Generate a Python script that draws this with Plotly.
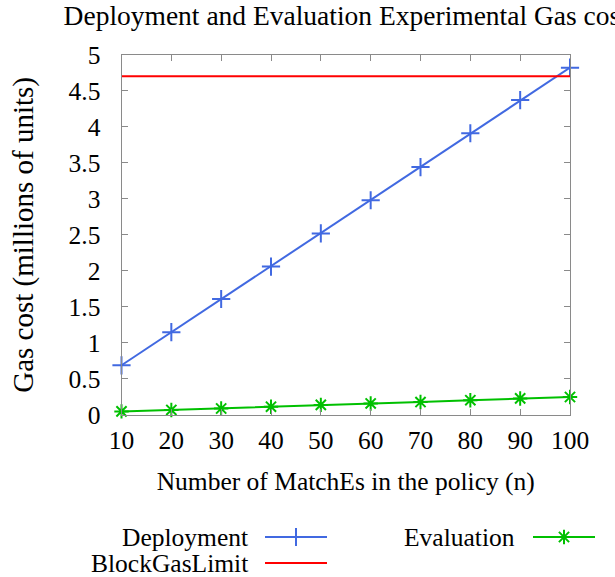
import plotly.graph_objects as go

# ---- data ----
n_matches = [10, 20, 30, 40, 50, 60, 70, 80, 90, 100]
deployment = [0.69, 1.15, 1.61, 2.06, 2.52, 2.98, 3.44, 3.91, 4.37, 4.82]
evaluation = [0.05, 0.07, 0.09, 0.115, 0.14, 0.16, 0.18, 0.205, 0.23, 0.25]
block_gas_limit = 4.7
x_ticks = [10, 20, 30, 40, 50, 60, 70, 80, 90, 100]
y_ticks = [0, 0.5, 1, 1.5, 2, 2.5, 3, 3.5, 4, 4.5, 5]

# ---- style ----
W, H = 615, 577
FONT = "Liberation Serif"
FS = 25.5
BLUE = "#4169E1"
GREEN = "#00C000"
RED = "#FF0000"
AX = "#8a8a8a"
PL, PR, PT, PB = 121.5, 570, 54.7, 415  # plot area in px

fig = go.Figure()

fig.add_trace(go.Scatter(
    x=n_matches, y=deployment, mode="lines+markers", name="Deployment",
    line=dict(color=BLUE, width=2),
    marker=dict(symbol="cross-thin", size=13, line=dict(color=BLUE, width=2)),
    cliponaxis=False, showlegend=False))
fig.add_trace(go.Scatter(
    x=[x_ticks[0], x_ticks[-1]], y=[block_gas_limit, block_gas_limit],
    mode="lines", name="BlockGasLimit", line=dict(color=RED, width=2),
    showlegend=False))
fig.add_trace(go.Scatter(
    x=n_matches, y=evaluation, mode="lines+markers", name="Evaluation",
    line=dict(color=GREEN, width=2),
    marker=dict(symbol="asterisk-open", size=12, line=dict(color=GREEN, width=2)),
    cliponaxis=False, showlegend=False))

# ---- gnuplot-style legend (text then sample) on a full-figure pixel axis ----
legend_items = [
    ("Deployment", BLUE, "cross-thin", 13, 250, 265, 327, 537),
    ("BlockGasLimit", RED, None, 0, 250, 265, 327, 563),
    ("Evaluation", GREEN, "asterisk-open", 12, 517, 533, 595, 537),
]
for name, col, sym, sz, tx, x0, x1, yy in legend_items:
    fig.add_trace(go.Scatter(
        x=[x0, x1], y=[yy, yy], mode="lines", line=dict(color=col, width=2),
        xaxis="x2", yaxis="y2", showlegend=False, hoverinfo="skip", cliponaxis=False))
    if sym:
        fig.add_trace(go.Scatter(
            x=[(x0 + x1) / 2], y=[yy], mode="markers",
            marker=dict(symbol=sym, size=sz, line=dict(color=col, width=2), color=col),
            xaxis="x2", yaxis="y2", showlegend=False, hoverinfo="skip", cliponaxis=False))
    fig.add_annotation(x=tx, y=yy, xref="x2", yref="y2", text=name, showarrow=False,
                       xanchor="right", yanchor="middle",
                       font=dict(family=FONT, size=FS, color="black"))

axis_common = dict(
    showgrid=False, zeroline=False, showline=True, linecolor=AX, linewidth=1,
    mirror="ticks", ticks="inside", ticklen=6, tickcolor=AX, tickwidth=1,
    tickfont=dict(family=FONT, size=FS, color="black"), automargin=False,
)

fig.update_layout(
    width=W, height=H,
    margin=dict(l=0, r=0, t=0, b=0, autoexpand=False),
    paper_bgcolor="white", plot_bgcolor="rgba(0,0,0,0)",
    title=dict(text="Deployment and Evaluation Experimental Gas cost",
               font=dict(family=FONT, size=27.5, color="black"),
               x=(PL + PR) / 2 / W, xanchor="center", xref="paper",
               y=1 - 15 / H, yanchor="middle", yref="container", automargin=False),
    xaxis=dict(domain=[PL / W, PR / W], range=[10, 100], tickvals=x_ticks,
               ticklabelstandoff=2, anchor="y",
               title=dict(text="Number of MatchEs in the policy (n)",
                          font=dict(family=FONT, size=FS, color="black"), standoff=18),
               **axis_common),
    yaxis=dict(domain=[1 - PB / H, 1 - PT / H], range=[0, 5], tickvals=y_ticks,
               ticktext=[f"{v:g}" for v in y_ticks], ticklabelstandoff=15, anchor="x",
               title=dict(text="Gas cost (millions of units)",
                          font=dict(family=FONT, size=29, color="black"), standoff=26),
               **axis_common),
    xaxis2=dict(domain=[0, 1], range=[0, W], visible=False, anchor="y2"),
    yaxis2=dict(domain=[0, 1], range=[H, 0], visible=False, anchor="x2"),
    showlegend=False,
)

fig.write_html("out.html", config={"displayModeBar": False},
               post_script="document.body.style.margin='0px';")
